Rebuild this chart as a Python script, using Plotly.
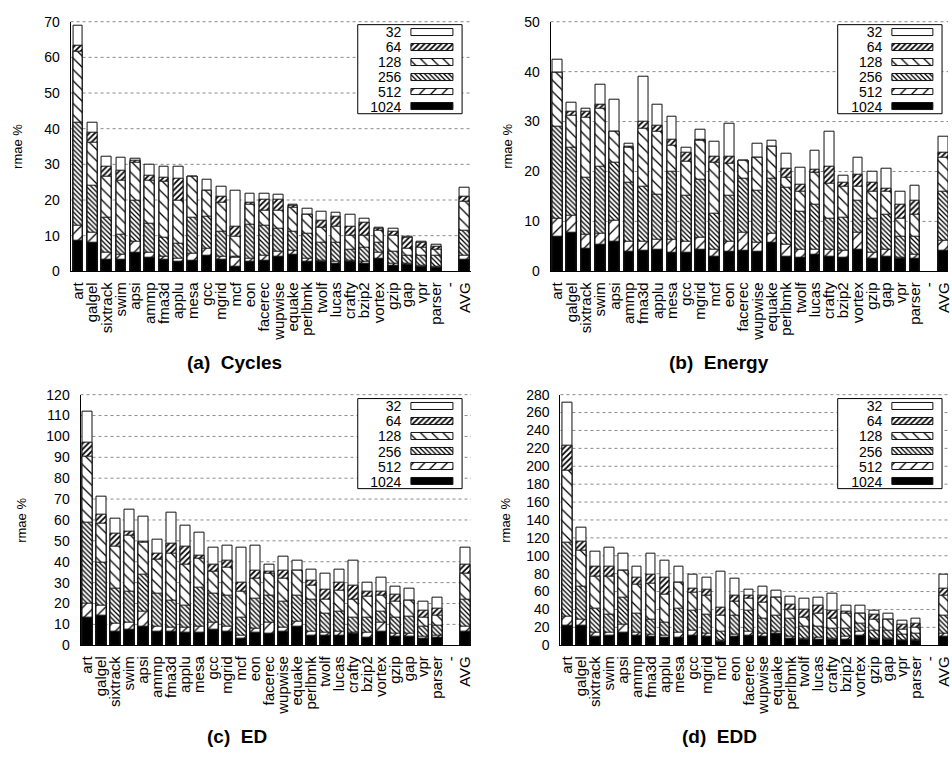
import plotly.graph_objects as go

W, H = 952, 758

categories = ["art", "galgel", "sixtrack", "swim", "apsi", "ammp", "fma3d", "applu", "mesa", "gcc",
              "mgrid", "mcf", "eon", "facerec", "wupwise", "equake", "perlbmk", "twolf", "lucas",
              "crafty", "bzip2", "vortex", "gzip", "gap", "vpr", "parser", "-", "AVG"]

series_names = ["32", "64", "128", "256", "512", "1024"]

N = None
# ---- (a) Cycles ----
cycles_1024 = [8.5, 8.0, 3.2, 3.2, 5.1, 3.7, 3.2, 2.7, 3.0, 4.4, 3.2, 1.2, 2.6, 3.0, 4.1, 4.6, 2.6, 2.6, 2.1, 2.6, 2.0, 3.5, 1.6, 1.9, 1.4, 1.0, N, 3.3]
cycles_512 = [12.9, 10.8, 5.1, 4.8, 8.2, 5.2, 4.2, 3.6, 5.0, 6.4, 4.1, 3.8, 3.5, 4.3, 5.5, 5.8, 3.5, 3.0, 2.7, 3.0, 2.7, 5.3, 2.2, 2.1, 1.6, 1.2, N, 4.4]
cycles_256 = [41.7, 24.0, 15.1, 10.2, 19.7, 13.3, 9.3, 7.7, 14.9, 15.4, 11.2, 4.0, 13.0, 12.8, 11.9, 11.2, 10.6, 8.0, 7.9, 6.2, 6.7, 8.0, 5.5, 4.4, 4.4, 4.4, N, 11.5]
cycles_128 = [61.7, 36.2, 26.6, 25.4, 30.5, 25.4, 25.0, 19.9, 26.6, 22.5, 19.3, 9.7, 18.6, 17.0, 17.0, 17.9, 16.0, 12.2, 12.4, 9.9, 10.1, 11.5, 9.9, 6.4, 6.7, 6.2, N, 19.5]
cycles_64 = [63.3, 39.0, 29.3, 28.3, 31.1, 26.7, 26.3, 26.1, 26.6, 22.5, 20.9, 12.4, 19.2, 20.1, 20.1, 18.5, 16.0, 14.3, 15.4, 12.4, 13.5, 11.9, 11.2, 9.4, 7.9, 6.9, N, 20.8]
cycles_32 = [69.0, 41.6, 32.1, 31.8, 31.6, 30.0, 29.3, 29.3, 26.6, 25.7, 23.6, 22.6, 21.9, 21.9, 21.4, 18.6, 17.5, 16.8, 16.5, 15.8, 14.7, 12.2, 11.9, 9.6, 8.2, 7.6, N, 23.4]

# ---- (b) Energy ----
energy_1024 = [6.9, 7.8, 4.6, 5.3, 5.9, 4.0, 4.2, 4.4, 3.8, 3.8, 4.4, 3.0, 3.9, 4.1, 3.9, 5.7, 3.0, 2.7, 3.3, 3.0, 2.7, 4.3, 2.5, 3.0, 2.5, 2.5, N, 4.1]
energy_512 = [10.6, 11.2, 7.4, 7.6, 10.1, 6.0, 5.9, 6.3, 6.3, 5.9, 6.7, 4.3, 5.9, 7.8, 5.7, 7.5, 5.4, 4.4, 4.4, 4.4, 4.1, 7.7, 3.7, 4.4, 2.7, 3.3, N, 6.2]
energy_256 = [28.9, 24.8, 18.8, 20.9, 21.7, 17.8, 17.0, 15.4, 20.0, 15.2, 18.3, 11.6, 15.2, 18.5, 16.1, 18.5, 16.7, 11.9, 13.3, 10.5, 10.8, 14.2, 10.6, 11.3, 6.9, 7.0, N, 15.9]
energy_128 = [39.8, 31.2, 30.7, 32.5, 27.9, 24.8, 28.5, 27.9, 25.1, 21.9, 26.1, 21.7, 21.5, 22.1, 22.7, 25.0, 18.7, 15.9, 19.8, 17.5, 17.0, 17.0, 16.0, 15.9, 10.6, 11.3, N, 22.7]
energy_64 = [39.8, 32.0, 32.0, 33.4, 27.9, 25.0, 30.0, 29.1, 26.3, 23.7, 26.3, 23.0, 23.0, 22.1, 22.7, 25.0, 20.6, 17.4, 20.4, 21.0, 17.8, 19.3, 17.8, 16.6, 13.3, 14.2, N, 23.7]
energy_32 = [42.3, 33.7, 32.5, 37.4, 34.3, 25.5, 38.9, 33.4, 30.9, 24.7, 28.3, 26.0, 29.6, 22.2, 25.5, 26.2, 23.6, 20.8, 24.2, 27.9, 19.2, 22.7, 20.0, 20.6, 15.9, 17.2, N, 27.0]

# ---- (c) ED ----
ed_1024 = [13.4, 14.2, 6.7, 7.5, 9.1, 6.7, 6.7, 5.9, 5.9, 7.5, 6.7, 3.3, 5.9, 5.5, 6.3, 9.1, 4.4, 4.4, 4.8, 5.5, 3.6, 6.7, 3.9, 3.9, 3.3, 3.6, N, 6.3]
ed_512 = [20.0, 18.9, 10.2, 10.6, 16.1, 9.1, 8.6, 8.3, 9.1, 10.6, 8.8, 4.8, 8.0, 10.6, 8.6, 11.1, 6.7, 5.9, 6.3, 5.9, 5.9, 10.6, 5.5, 5.5, 3.9, 4.4, N, 8.8]
ed_256 = [58.6, 39.5, 27.0, 25.5, 33.6, 24.7, 21.2, 18.9, 27.5, 24.7, 23.9, 13.0, 22.3, 23.9, 21.1, 23.9, 21.6, 15.3, 16.1, 13.0, 13.3, 16.1, 13.0, 13.8, 8.8, 9.5, N, 21.6]
ed_128 = [90.3, 58.3, 47.3, 52.5, 48.9, 40.8, 43.9, 38.4, 41.4, 35.2, 37.2, 25.8, 31.7, 34.1, 31.7, 35.6, 28.6, 21.9, 26.3, 21.6, 23.1, 23.9, 20.8, 21.4, 13.4, 14.2, N, 34.5]
ed_64 = [97.0, 62.7, 53.3, 54.4, 49.7, 43.9, 48.6, 47.0, 43.0, 38.4, 40.6, 30.2, 35.6, 35.2, 35.6, 35.6, 30.9, 26.7, 30.2, 28.6, 25.9, 25.9, 24.2, 21.4, 16.6, 17.7, N, 38.4]
ed_32 = [111.7, 71.1, 60.6, 64.8, 61.4, 50.5, 63.4, 57.5, 54.1, 46.6, 47.8, 46.6, 47.7, 38.8, 42.2, 40.6, 36.4, 34.2, 36.1, 40.3, 29.8, 32.2, 28.1, 27.0, 20.8, 22.7, N, 46.6]

# ---- (d) EDD ----
edd_1024 = [21.9, 21.9, 9.1, 10.2, 13.9, 10.2, 9.5, 8.4, 8.4, 10.9, 9.1, 3.6, 9.1, 10.2, 9.1, 12.8, 7.7, 6.6, 6.6, 6.6, 6.6, 10.2, 6.2, 6.2, 4.7, 4.7, N, 9.1]
edd_512 = [32.1, 28.4, 13.9, 14.6, 23.0, 13.9, 12.0, 10.2, 13.9, 16.4, 12.8, 5.5, 11.3, 15.7, 13.5, 15.7, 9.5, 7.7, 8.4, 7.7, 9.1, 15.7, 7.7, 7.7, 5.5, 6.2, N, 12.8]
edd_256 = [114.1, 65.6, 40.5, 33.9, 52.9, 35.7, 28.4, 24.8, 41.2, 38.6, 33.9, 15.0, 33.2, 38.6, 29.2, 33.2, 29.5, 21.1, 21.1, 18.6, 18.6, 24.1, 16.8, 16.8, 11.3, 12.8, N, 33.2]
edd_128 = [195.0, 106.1, 76.9, 76.6, 83.8, 67.4, 68.5, 56.5, 69.6, 58.3, 55.8, 33.2, 48.5, 52.1, 47.8, 53.2, 39.4, 30.3, 35.7, 29.5, 35.7, 35.7, 28.4, 28.4, 17.5, 19.3, N, 55.8]
edd_64 = [222.7, 116.0, 87.5, 87.9, 83.8, 75.1, 78.4, 75.1, 69.6, 63.8, 62.0, 42.3, 55.1, 55.8, 55.8, 53.2, 45.6, 40.1, 44.8, 38.6, 37.5, 35.7, 33.9, 28.4, 23.0, 23.7, N, 63.8]
edd_32 = [271.6, 131.2, 105.0, 108.6, 102.8, 87.5, 102.4, 94.8, 87.9, 78.4, 75.8, 82.0, 74.0, 62.3, 65.6, 60.5, 54.0, 52.1, 52.9, 57.2, 44.8, 44.8, 38.6, 35.7, 27.7, 29.2, N, 78.4]

panel_titles = ["(a)\u00a0\u00a0Cycles", "(b)\u00a0\u00a0Energy", "(c)\u00a0\u00a0ED", "(d)\u00a0\u00a0EDD"]
y_label = "rmae %"

panels = [
    [cycles_32, cycles_64, cycles_128, cycles_256, cycles_512, cycles_1024],
    [energy_32, energy_64, energy_128, energy_256, energy_512, energy_1024],
    [ed_32, ed_64, ed_128, ed_256, ed_512, ed_1024],
    [edd_32, edd_64, edd_128, edd_256, edd_512, edd_1024],
]

# ---------------- styling ----------------
FONT = "Liberation Sans, Arial, Helvetica, sans-serif"
styles = {
    "32":   dict(color="white", pattern=dict(shape="")),
    "64":   dict(color="white", pattern=dict(shape="/", size=4, solidity=0.45, fgcolor="black", bgcolor="white", fillmode="replace")),
    "128":  dict(color="white", pattern=dict(shape="\\", size=8, solidity=0.16, fgcolor="black", bgcolor="white", fillmode="replace")),
    "256":  dict(color="white", pattern=dict(shape="\\", size=3.4, solidity=0.38, fgcolor="black", bgcolor="white", fillmode="replace")),
    "512":  dict(color="white", pattern=dict(shape="/", size=8, solidity=0.16, fgcolor="black", bgcolor="white", fillmode="replace")),
    "1024": dict(color="black", pattern=dict(shape="")),
}

def px_x(p):
    return p / W

def px_y(p):
    return 1 - p / H

# layout geometry (pixels)
geo = [
    dict(x0=69, x1=472, top=14, bot=269, xr=[-0.53, 27.43], ymax=70, dtick=10,
         box=(358, 463, 17, 108), sw=(412, 454), title=(234, 362), ylab=(15, 141)),
    dict(x0=552, x1=952, top=14, bot=269, xr=[-0.49, 27.3], ymax=50, dtick=10,
         box=(841, 946, 17, 108), sw=(896, 937), title=(722, 362), ylab=(508, 141)),
    dict(x0=79, x1=472, top=395, bot=651, xr=[-0.5, 27.4], ymax=120, dtick=10,
         box=(358, 463, 399, 491), sw=(412, 454), title=(236, 744), ylab=(20, 523)),
    dict(x0=562, x1=952, top=395, bot=651, xr=[-0.5, 27.28], ymax=280, dtick=20,
         box=(841, 946, 399, 491), sw=(896, 937), title=(722, 744), ylab=(507, 523)),
]

fig = go.Figure()
shapes = []
annotations = []
layout_axes = {}

for i, (vals, g) in enumerate(zip(panels, geo)):
    n = i + 1
    xa = "x" if n == 1 else f"x{n}"
    ya = "y" if n == 1 else f"y{n}"
    for name, v in zip(series_names, vals):
        st = styles[name]
        fig.add_trace(go.Bar(
            x=categories, y=v, name=name, xaxis=xa, yaxis=ya, width=0.68,
            marker=dict(color=st["color"], pattern=st["pattern"],
                        line=dict(color="#111", width=1)),
            showlegend=False, hoverinfo="x+y+name",
        ))
    xd = [px_x(g["x0"]), min(1.0, px_x(g["x1"]))]
    yd = [px_y(g["bot"]), px_y(g["top"])]
    layout_axes[f"xaxis{'' if n == 1 else n}"] = dict(
        domain=xd, anchor=ya, type="category", categoryorder="array", categoryarray=categories,
        tickmode="array", tickvals=categories, ticktext=categories,
        range=g["xr"], showline=True, linecolor="black", linewidth=1, showgrid=False,
        zeroline=False, ticks="", tickangle=-90, tickfont=dict(size=15, color="black", family=FONT),
        ticklabelstandoff=4, fixedrange=True)
    layout_axes[f"yaxis{'' if n == 1 else n}"] = dict(
        domain=yd, anchor=xa, range=[0, g["ymax"]], dtick=g["dtick"], tick0=0, showline=True,
        linecolor="black", linewidth=1, showgrid=False, zeroline=False, ticks="",
        tickfont=dict(size=14, color="black", family=FONT), ticklabelstandoff=7, fixedrange=True)

    # dotted grid lines (drawn as shapes so the legend box can cover them)
    v = g["dtick"]
    while v <= g["ymax"] + 1e-9:
        yp = yd[0] + v / g["ymax"] * (yd[1] - yd[0])
        shapes.append(dict(type="line", xref="paper", yref="paper", x0=xd[0], x1=xd[1], y0=yp, y1=yp,
                           line=dict(color="#8a8a8a", width=1, dash="dot"), layer="below"))
        v += g["dtick"]

    # legend box
    bx0, bx1, by0, by1 = g["box"]
    shapes.append(dict(type="rect", xref="paper", yref="paper", x0=px_x(bx0), x1=px_x(bx1),
                       y0=px_y(by1), y1=px_y(by0), fillcolor="white",
                       line=dict(color="black", width=1), layer="below"))

    # legend swatches as a mini horizontal bar subplot
    m = n + 4
    sw0, sw1 = g["sw"]
    swl = sw1 - sw0
    rows_top = by0 + 0.4
    rows_bot = by1 + 0.6
    for name in series_names:
        st = styles[name]
        fig.add_trace(go.Bar(
            y=[name], x=[1], base=0, orientation="h", width=0.46,
            xaxis=f"x{m}", yaxis=f"y{m}", showlegend=False, hoverinfo="skip",
            marker=dict(color=st["color"], pattern=st["pattern"],
                        line=dict(color="#111", width=1)),
        ))
    layout_axes[f"xaxis{m}"] = dict(domain=[px_x(sw0 - 2), px_x(sw1 + 2)], anchor=f"y{m}",
                                    range=[-2 / swl, 1 + 2 / swl], visible=False, fixedrange=True)
    layout_axes[f"yaxis{m}"] = dict(domain=[px_y(rows_bot), px_y(rows_top)], anchor=f"x{m}",
                                    type="category", categoryorder="array", categoryarray=series_names,
                                    tickmode="array", tickvals=series_names, ticktext=series_names,
                                    range=[5.5, -0.5], showline=False, showgrid=False, zeroline=False,
                                    ticks="", tickfont=dict(size=14, color="black", family=FONT),
                                    ticklabelstandoff=7, fixedrange=True)

    # panel title
    tx, ty = g["title"]
    annotations.append(dict(text=f"<b>{panel_titles[i]}</b>", x=px_x(tx), y=px_y(ty), xref="paper",
                            yref="paper", showarrow=False, xanchor="center", yanchor="middle",
                            font=dict(size=19, color="black", family=FONT)))
    # y label
    lx, ly = g["ylab"]
    annotations.append(dict(text=y_label, x=px_x(lx), y=px_y(ly), xref="paper", yref="paper",
                            showarrow=False, textangle=-90, xanchor="center", yanchor="middle",
                            font=dict(size=13, color="black", family=FONT)))

fig.update_layout(
    width=W, height=H, autosize=False,
    margin=dict(l=0, r=0, t=0, b=0),
    paper_bgcolor="white", plot_bgcolor="rgba(0,0,0,0)",
    barmode="overlay", bargap=0,
    font=dict(family=FONT, color="black"),
    shapes=shapes, annotations=annotations,
    **layout_axes,
)

fig.write_html("out.html")
